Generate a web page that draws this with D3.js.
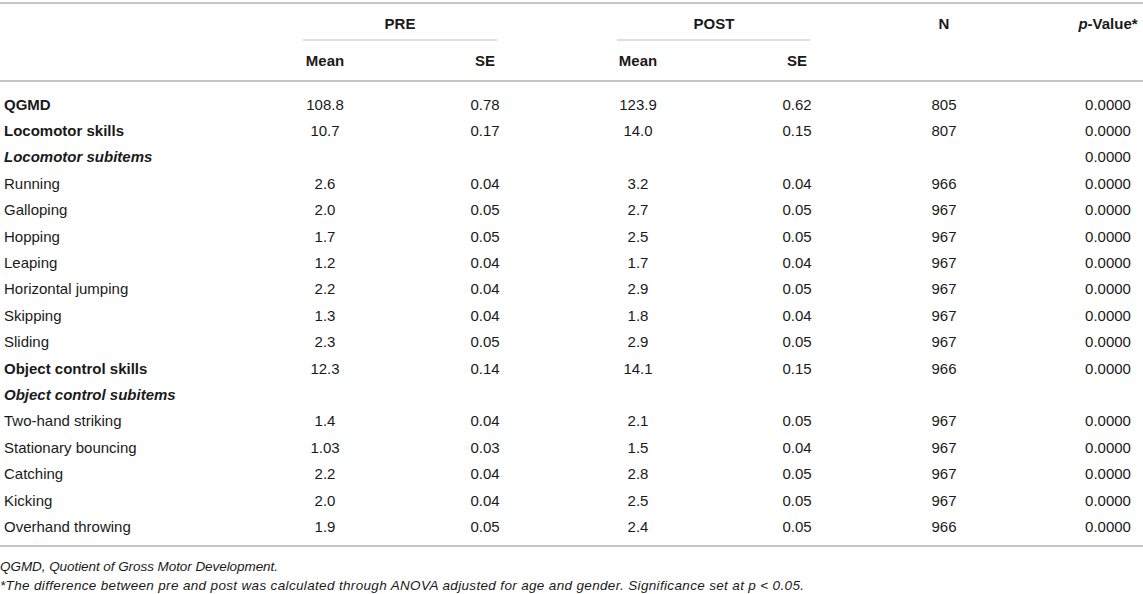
<!DOCTYPE html>
<html>
<head>
<meta charset="utf-8">
<script src="https://cdn.jsdelivr.net/npm/d3@7"></script>
<style>
  body { margin: 0; background: #fff; }
  svg text { font-family: "Liberation Sans", Arial, sans-serif; fill: #1a1a1a; }
</style>
</head>
<body>
<svg id="table"></svg>
<script>
// table content
const labels = ["QGMD", "Locomotor skills", "Locomotor subitems", "Running", "Galloping", "Hopping",
  "Leaping", "Horizontal jumping", "Skipping", "Sliding", "Object control skills", "Object control subitems",
  "Two-hand striking", "Stationary bouncing", "Catching", "Kicking", "Overhand throwing"];
const labelStyle = ["b", "b", "bi", "", "", "", "", "", "", "", "b", "bi", "", "", "", "", ""];
const preMean = ["108.8", "10.7", "", "2.6", "2.0", "1.7", "1.2", "2.2", "1.3", "2.3", "12.3", "", "1.4", "1.03", "2.2", "2.0", "1.9"];
const preSE = ["0.78", "0.17", "", "0.04", "0.05", "0.05", "0.04", "0.04", "0.04", "0.05", "0.14", "", "0.04", "0.03", "0.04", "0.04", "0.05"];
const postMean = ["123.9", "14.0", "", "3.2", "2.7", "2.5", "1.7", "2.9", "1.8", "2.9", "14.1", "", "2.1", "1.5", "2.8", "2.5", "2.4"];
const postSE = ["0.62", "0.15", "", "0.04", "0.05", "0.05", "0.04", "0.05", "0.04", "0.05", "0.15", "", "0.05", "0.04", "0.05", "0.05", "0.05"];
const nValues = ["805", "807", "", "966", "967", "967", "967", "967", "967", "967", "966", "", "967", "967", "967", "967", "966"];
const pValues = ["0.0000", "0.0000", "0.0000", "0.0000", "0.0000", "0.0000", "0.0000", "0.0000", "0.0000", "0.0000",
  "0.0000", "", "0.0000", "0.0000", "0.0000", "0.0000", "0.0000"];
const footnotes = ["QGMD, Quotient of Gross Motor Development.",
  "*The difference between pre and post was calculated through ANOVA adjusted for age and gender. Significance set at p < 0.05."];

const width = 1143, height = 594;
const svg = d3.select("#table").attr("width", width).attr("height", height);

const colKeys = ["preMean", "preSE", "postMean", "postSE", "n", "p"];
const colData = [preMean, preSE, postMean, postSE, nValues, pValues];
const x = d3.scaleOrdinal().domain(colKeys).range([325, 485, 638, 797, 944, 1108]);
const y = d3.scalePoint().domain(d3.range(labels.length)).range([104, 526.4]);

const rule = (y0, w, x0, x1, c) => svg.append("line")
  .attr("x1", x0).attr("x2", x1).attr("y1", y0).attr("y2", y0)
  .attr("stroke", c).attr("stroke-width", w);

rule(3, 2, 0, width, "#c6c6c6");
rule(81, 2, 0, width, "#c6c6c6");
rule(546, 2, 0, width, "#c6c6c6");
rule(40, 1, 303, 497, "#bdbdbd");
rule(40, 1, 617, 810, "#bdbdbd");

// header
const head = svg.append("g").attr("font-size", 15).attr("font-weight", "bold").attr("text-anchor", "middle");
head.append("text").attr("x", 400).attr("y", 28.5).text("PRE");
head.append("text").attr("x", 714).attr("y", 28.5).text("POST");
head.append("text").attr("x", x("n")).attr("y", 28.5).text("N");
const pv = head.append("text").attr("x", x("p")).attr("y", 28.5);
pv.append("tspan").attr("font-style", "italic").text("p");
pv.append("tspan").text("-Value*");
[["preMean", "Mean"], ["preSE", "SE"], ["postMean", "Mean"], ["postSE", "SE"]].forEach(([k, t]) =>
  head.append("text").attr("x", x(k)).attr("y", 65.5).text(t));

// body
const rows = svg.append("g").attr("font-size", 15)
  .selectAll("g").data(labels).join("g")
  .attr("transform", (d, i) => `translate(0,${y(i) + 5.5})`);

rows.append("text").attr("x", 4)
  .attr("font-weight", (d, i) => labelStyle[i].includes("b") ? "bold" : null)
  .attr("font-style", (d, i) => labelStyle[i].includes("i") ? "italic" : null)
  .text(d => d);

colKeys.forEach((k, c) => {
  rows.append("text").attr("x", x(k)).attr("text-anchor", "middle")
    .text((d, i) => colData[c][i]);
});

// footnotes
const fn = svg.append("g").attr("font-size", 13.5).attr("font-style", "italic");
fn.append("text").attr("x", 0).attr("y", 571).attr("textLength", 278).text(footnotes[0]);
fn.append("text").attr("x", 0).attr("y", 590).attr("textLength", 804).text(footnotes[1]);
</script>
</body>
</html>
